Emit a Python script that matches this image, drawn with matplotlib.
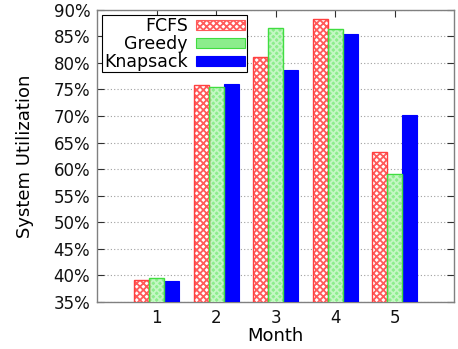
import matplotlib
matplotlib.use("Agg")
import matplotlib.pyplot as plt
import numpy as np
from matplotlib.patches import Patch
from matplotlib.ticker import FuncFormatter

months = [1, 2, 3, 4, 5]
fcfs = [39.2, 75.8, 81.2, 88.3, 63.2]
greedy = [39.5, 75.5, 86.5, 86.3, 59.1]
knapsack = [38.9, 76.0, 78.6, 85.4, 70.2]
series_names = ["FCFS", "Greedy", "Knapsack"]

plt.rcParams["font.family"] = ["DejaVu Sans"]
plt.rcParams["hatch.linewidth"] = 1.3

fig = plt.figure(figsize=(4.58, 3.49), dpi=100)
ax = fig.add_axes([0.212, 0.135, 0.780, 0.837])

x = np.array(months, dtype=float)
w = 0.25

# FCFS: red checker pattern on white
ax.bar(x - w, fcfs, w, facecolor="white", edgecolor="#ff5a5a",
       hatch="xxxxx", linewidth=0, zorder=3)
ax.bar(x - w, fcfs, w, facecolor="none", edgecolor="#ff4040", linewidth=1.0, zorder=4)

# Greedy: light green with fine light checker texture
ax.bar(x, greedy, w, facecolor="#8ced8c", edgecolor="#c4f7c4",
       hatch="xxxxx", linewidth=0, zorder=3)
ax.bar(x, greedy, w, facecolor="none", edgecolor="#40dd40", linewidth=1.0, zorder=4)

# Knapsack: solid blue
ax.bar(x + w, knapsack, w, facecolor="#0000ff", edgecolor="#0000ff",
       linewidth=0.8, zorder=3)

ax.set_xlim(0, 6)
ax.set_ylim(35, 90)
ax.set_xticks(months)
ax.set_yticks(np.arange(35, 91, 5))
ax.yaxis.set_major_formatter(FuncFormatter(lambda v, p: f"{v:.0f}%"))
ax.tick_params(direction="in", top=True, right=True, labelsize=12,
               color="#303030", length=5, width=0.8, labelcolor="#111111")
ax.tick_params(axis="x", pad=5)
ax.tick_params(axis="y", pad=5)
ax.grid(axis="y", linestyle=(0, (1, 2)), color="#a0a0a0", linewidth=0.8, zorder=1)
for s in ax.spines.values():
    s.set_color("#808080")
    s.set_linewidth(1.0)

ax.set_xlabel("Month", fontsize=13, labelpad=0)
ax.set_ylabel("System Utilization", fontsize=13, labelpad=14)

handles = [
    Patch(facecolor="white", edgecolor="#ff5a5a", hatch="xxxxx", linewidth=0.8),
    Patch(facecolor="#8ced8c", edgecolor="#40dd40", linewidth=0.8),
    Patch(facecolor="#0000ff", edgecolor="#0000ff", linewidth=0.8),
]
leg = ax.legend(handles, series_names, loc="upper left", markerfirst=False,
                fontsize=12.5, frameon=True, fancybox=False, framealpha=1,
                edgecolor="black", borderpad=0.1, labelspacing=0.0,
                handlelength=2.8, handleheight=0.5, handletextpad=0.5,
                borderaxespad=0.3)
leg.get_frame().set_linewidth(0.8)
leg.set_zorder(10)

fig.savefig("out.png", dpi=100)
